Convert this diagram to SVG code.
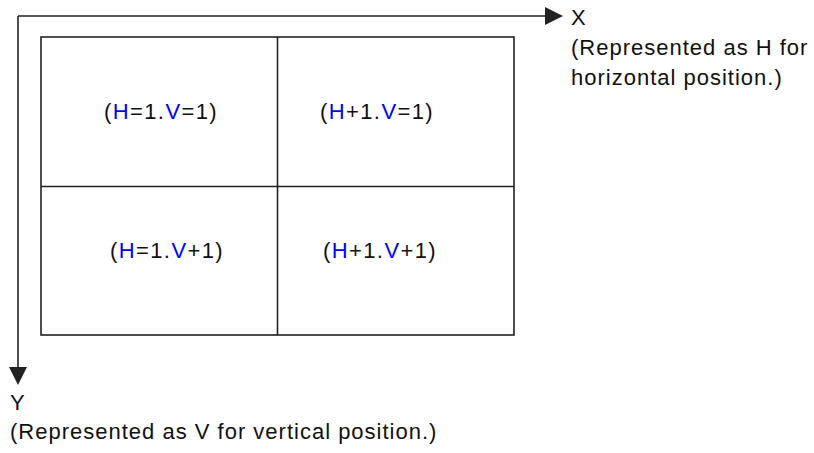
<svg xmlns="http://www.w3.org/2000/svg" width="814" height="453" viewBox="0 0 814 453">
<style>
text{font-family:"Liberation Sans","DejaVu Sans",sans-serif;font-size:22px;fill:#111;letter-spacing:1px}
.c{letter-spacing:1.4px}
.b{fill:#0000ff}
.ln{stroke:#222;stroke-width:1.6;fill:none}
.ah{fill:#222}
</style>
<rect width="814" height="453" fill="#fff"/>
<g id="connectors">
<path class="ln" d="M18,16 H548"/>
<path class="ah" d="M545,7 L563,16 L545,25 z"/>
<path class="ln" d="M18,16 V370"/>
<path class="ah" d="M9,367 L18,385 L27,367 z"/>
</g>
<g id="grid">
<rect class="ln" x="41" y="37" width="473" height="298"/>
<line class="ln" x1="277.5" y1="37" x2="277.5" y2="335"/>
<line class="ln" x1="41" y1="186.5" x2="514" y2="186.5"/>
</g>
<g id="cell11"><text class="c" x="161" y="119" text-anchor="middle">(<tspan class="b">H</tspan>=1.<tspan class="b">V</tspan>=1)</text></g>
<g id="cell21"><text class="c" x="377" y="119" text-anchor="middle">(<tspan class="b">H</tspan>+1.<tspan class="b">V</tspan>=1)</text></g>
<g id="cell12"><text class="c" x="167" y="258" text-anchor="middle">(<tspan class="b">H</tspan>=1.<tspan class="b">V</tspan>+1)</text></g>
<g id="cell22"><text class="c" x="380" y="258" text-anchor="middle">(<tspan class="b">H</tspan>+1.<tspan class="b">V</tspan>+1)</text></g>
<g id="xlabel">
<text x="571" y="25">X</text>
<text x="571" y="55">(Represented as H for</text>
<text x="571" y="85">horizontal position.)</text>
</g>
<g id="ylabel">
<text x="10" y="410">Y</text>
<text x="10" y="439">(Represented as V for vertical position.)</text>
</g>
</svg>
